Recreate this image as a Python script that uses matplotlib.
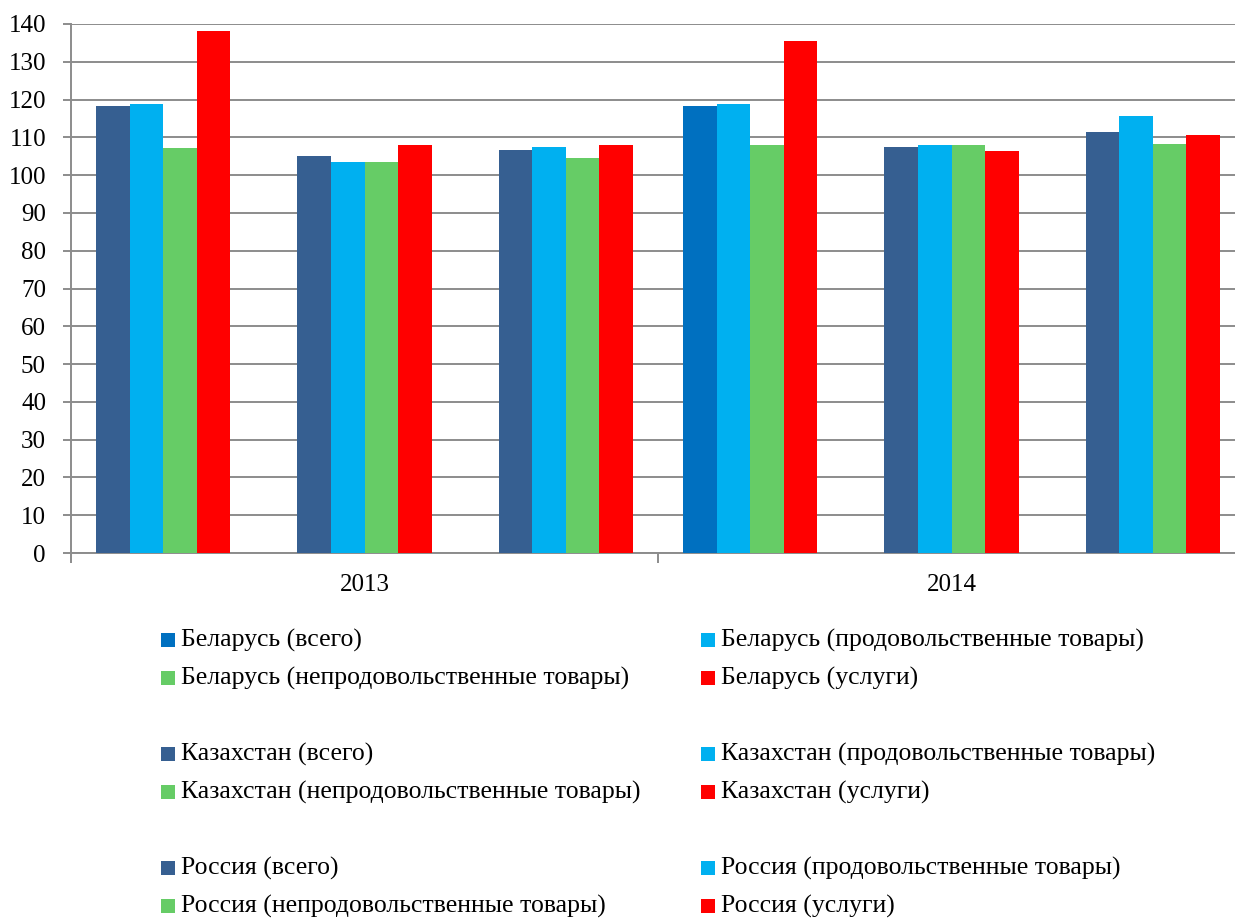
import matplotlib
matplotlib.use("Agg")
import matplotlib.pyplot as plt
from matplotlib.patches import Rectangle

plt.rcParams['font.family'] = ['Liberation Serif', 'DejaVu Serif']

# Data (index, previous year = 100)
years = ['2013', '2014']
countries = ['Беларусь', 'Казахстан', 'Россия']
kinds = ['всего', 'продовольственные товары', 'непродовольственные товары', 'услуги']

# each row: [всего, продовольственные, непродовольственные, услуги]
belarus = [[118.4, 118.9, 107.3, 138.1],
           [118.2, 118.8, 108.1, 135.5]]
kazakhstan = [[105.0, 103.4, 103.4, 108.1],
              [107.5, 108.1, 107.9, 106.5]]
russia = [[106.6, 107.4, 104.6, 108.1],
          [111.5, 115.6, 108.2, 110.6]]

kind_colors = ['#365F91', '#00B0F0', '#66CC66', '#FF0000']
belarus_total_color = '#0070C0'      # legend colour for Беларусь (всего)
belarus_total_bars = ['#365F91', '#0070C0']   # bar colour in 2013 / 2014

W, H = 1235, 918
fig = plt.figure(figsize=(W / 100, H / 100), dpi=100)
# axes runs a bit past the right edge, like the cropped original
ax = fig.add_axes([71 / W, 1 - 553 / H, 1174 / W, 529 / H])

data = [belarus, kazakhstan, russia]
slot = 1 / (16 + 2 * 0.75)
edge = 0.75 * slot

for g, vals in enumerate(data):
    for k in range(4):
        xs = [yi + edge + (g * 6 + k + 0.5) * slot for yi in range(len(years))]
        hs = [vals[yi][k] for yi in range(len(years))]
        if g == 0 and k == 0:
            cols = belarus_total_bars
        else:
            cols = [kind_colors[k]] * len(years)
        ax.bar(xs, hs, width=slot, color=cols, linewidth=0, zorder=3)

grid_col = '#8c8c8c'
ax.set_xlim(0, 2)
ax.set_ylim(0, 140)
ax.set_yticks(range(0, 141, 10))
ax.yaxis.grid(True, color=grid_col, linewidth=1.4, zorder=0)
ax.set_axisbelow(True)
for s in ['top', 'right']:
    ax.spines[s].set_visible(False)
for s in ['left', 'bottom']:
    ax.spines[s].set_color(grid_col)
    ax.spines[s].set_linewidth(1.4)

ax.tick_params(axis='y', length=6, width=1.4, color=grid_col, pad=12,
               labelsize=18)
ax.set_xticks([0, 1, 2])
ax.set_xticklabels([])
ax.set_xticks([0.5, 1.5], minor=True)
ax.set_xticklabels(years, minor=True)
ax.tick_params(axis='x', which='major', length=7, width=1.4, color=grid_col)
ax.tick_params(axis='x', which='minor', length=0, pad=15, labelsize=18)

# legend, laid out as in the original (two columns, blank row between countries)
col_x = [161, 701]
row_y0 = 640
for ci, country in enumerate(countries):
    for k, kind in enumerate(kinds):
        row = k // 2
        col = k % 2
        py = row_y0 + ci * 114 + row * 38
        px = col_x[col]
        c = kind_colors[k]
        if ci == 0 and k == 0:
            c = belarus_total_color
        fig.add_artist(Rectangle((px / W, 1 - (py + 7) / H), 14 / W, 14 / H,
                                 transform=fig.transFigure, color=c, lw=0))
        fig.text((px + 20) / W, 1 - py / H, f'{country} ({kind})',
                 fontsize=18.5, va='center', ha='left')

fig.savefig('out.png', dpi=100)
